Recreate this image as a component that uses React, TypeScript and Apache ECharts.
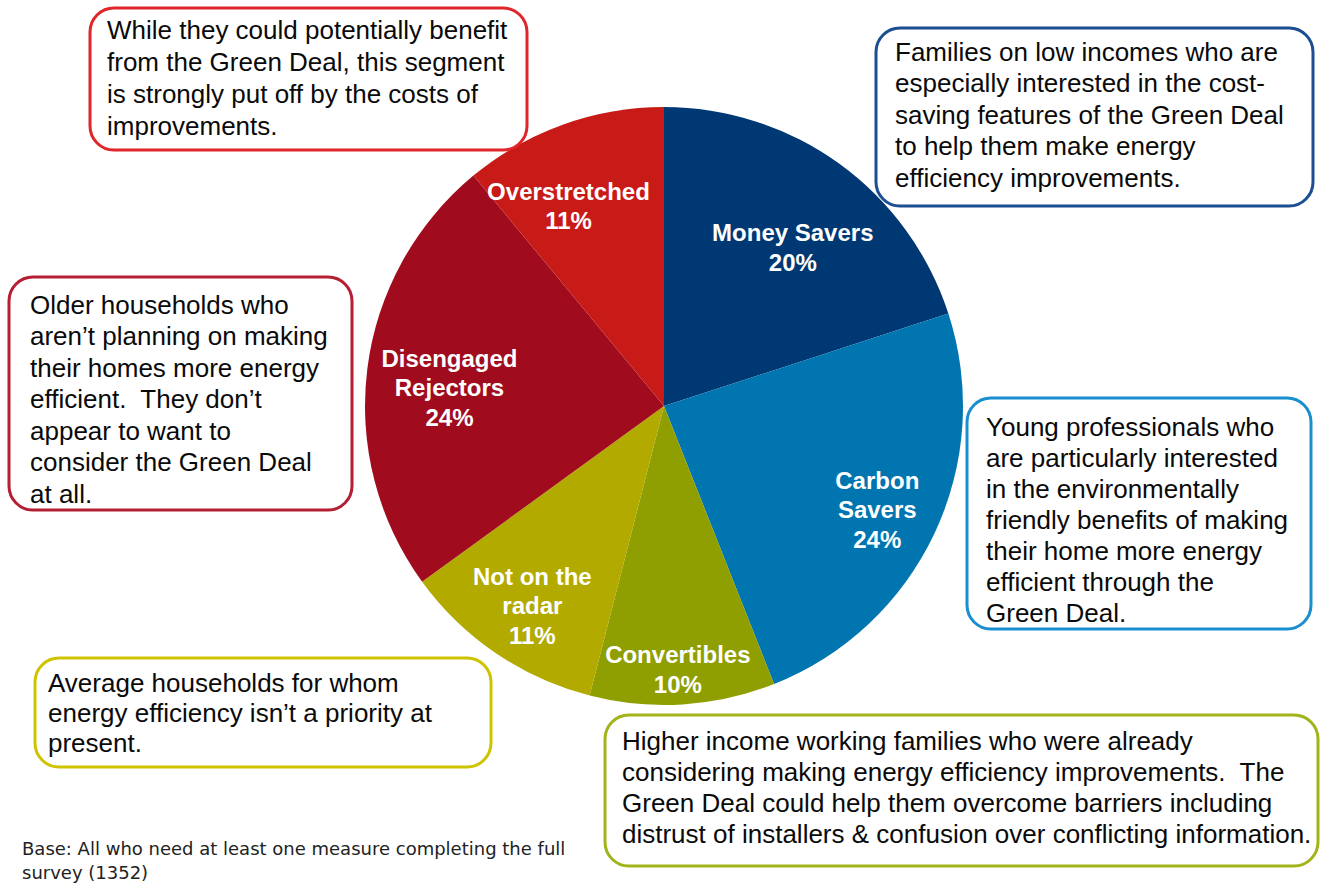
import React, { useEffect, useRef } from 'react';
import * as echarts from 'echarts';

// ---- Data ----
const segments = ['Money Savers', 'Carbon Savers', 'Convertibles', 'Not on the radar', 'Disengaged Rejectors', 'Overstretched'];
const segmentLabelLines = ['Money Savers', 'Carbon\nSavers', 'Convertibles', 'Not on the\nradar', 'Disengaged\nRejectors', 'Overstretched'];
const shares = [20, 24, 10, 11, 24, 11];
const segmentColors = ['#003873', '#0075b0', '#8f9e00', '#b3aa00', '#a00c1e', '#c81a17'];
// label placement inside each slice: fraction of radius, and angular shift (deg) from slice middle
const labelRadiusFrac = [0.683, 0.793, 0.883, 0.8, 0.72, 0.742];
const labelAngleShift = [-3.1, -0.7, -0.6, 0.8, 2.4, 5.7];

const descMoneySavers = [
  'Families on low incomes who are',
  'especially interested in the cost-',
  'saving features of the Green Deal',
  'to help them make energy',
  'efficiency improvements.',
];
const descCarbonSavers = [
  'Young professionals who',
  'are particularly interested',
  'in the environmentally',
  'friendly benefits of making',
  'their home more energy',
  'efficient through the',
  'Green Deal.',
];
const descConvertibles = [
  'Higher income working families who were already',
  'considering making energy efficiency improvements.  The',
  'Green Deal could help them overcome barriers including',
  'distrust of installers & confusion over conflicting information.',
];
const descNotOnRadar = [
  'Average households for whom',
  'energy efficiency isn\u2019t a priority at',
  'present.',
];
const descDisengaged = [
  'Older households who',
  'aren\u2019t planning on making',
  'their homes more energy',
  'efficient.  They don\u2019t',
  'appear to want to',
  'consider the Green Deal',
  'at all.',
];
const descOverstretched = [
  'While they could potentially benefit',
  'from the Green Deal, this segment',
  'is strongly put off by the costs of',
  'improvements.',
];
const footnote = ['Base: All who need at least one measure completing the full', 'survey (1352)'];

// ---- Layout ----
const CX = 664;
const CY = 406;
const R = 299;
const FONT = '"Liberation Sans", Arial, sans-serif';

type Box = { x: number; y: number; w: number; h: number; color: string; lines: string[]; tx: number; ty: number; lh: number };

const boxes: Box[] = [
  { x: 90, y: 8, w: 437, h: 142, color: '#e0262a', lines: descOverstretched, tx: 107, ty: 14, lh: 32 },
  { x: 876, y: 28, w: 437, h: 178, color: '#1c4f91', lines: descMoneySavers, tx: 895, ty: 36, lh: 31.5 },
  { x: 9, y: 277, w: 343, h: 233, color: '#b51f33', lines: descDisengaged, tx: 30, ty: 289, lh: 31.5 },
  { x: 967, y: 398, w: 344, h: 231, color: '#1a8fd0', lines: descCarbonSavers, tx: 986, ty: 411, lh: 31 },
  { x: 35, y: 658, w: 456, h: 109, color: '#cfc300', lines: descNotOnRadar, tx: 48, ty: 668, lh: 30 },
  { x: 605, y: 715, w: 713, h: 151, color: '#a3b41a', lines: descConvertibles, tx: 622, ty: 725, lh: 31 },
];

export default function App() {
  const ref = useRef<HTMLDivElement>(null);
  useEffect(() => {
    document.body.style.margin = '0';
    if (!ref.current) return;
    const chart = echarts.init(ref.current, undefined, { renderer: 'svg' });
    const total = shares.reduce((a, b) => a + b, 0);

    const graphics: any[] = [];
    boxes.forEach((b) => {
      graphics.push({
        type: 'rect',
        shape: { x: b.x, y: b.y, width: b.w, height: b.h, r: 24 },
        style: { fill: '#ffffff', stroke: b.color, lineWidth: 3 },
        z: 10,
      });
      graphics.push({
        type: 'text',
        x: b.tx,
        y: b.ty,
        style: {
          text: b.lines.join('\n'),
          fontFamily: FONT,
          fontSize: 26,
          lineHeight: b.lh,
          fill: '#0a0a0a',
          verticalAlign: 'top',
          align: 'left',
        },
        z: 11,
      });
    });
    graphics.push({
      type: 'text',
      x: 22,
      y: 836,
      style: {
        text: footnote.join('\n'),
        fontFamily: '"DejaVu Sans", Verdana, sans-serif',
        fontSize: 18,
        lineHeight: 24,
        fill: '#222222',
        verticalAlign: 'top',
        align: 'left',
      },
      z: 11,
    });

    chart.setOption({
      animation: false,
      backgroundColor: '#ffffff',
      series: [
        {
          type: 'pie',
          center: [CX, CY],
          radius: [0, R],
          startAngle: 90,
          clockwise: true,
          silent: true,
          avoidLabelOverlap: false,
          emphasis: { disabled: true },
          itemStyle: { borderWidth: 0 },
          label: {
            show: true,
            position: 'inside',
            color: '#ffffff',
            fontFamily: FONT,
            fontWeight: 'bold',
            fontSize: 24,
            lineHeight: 29.5,
            align: 'center',
            formatter: (p: any) => segmentLabelLines[p.dataIndex] + '\n' + p.value + '%',
          },
          labelLine: { show: false },
          labelLayout: (p: any) => {
            const i = p.dataIndex;
            let cum = 0;
            for (let j = 0; j < i; j++) cum += shares[j];
            const mid = (cum + shares[i] / 2) / total;
            const ang = ((90 - mid * 360 + labelAngleShift[i]) * Math.PI) / 180;
            const rr = R * labelRadiusFrac[i];
            return {
              x: CX + rr * Math.cos(ang),
              y: CY - rr * Math.sin(ang),
              align: 'center',
              verticalAlign: 'middle',
            };
          },
          data: segments.map((name, i) => ({
            name,
            value: shares[i],
            itemStyle: { color: segmentColors[i] },
          })),
        },
      ],
      graphic: { elements: graphics },
    });
    return () => chart.dispose();
  }, []);
  return <div ref={ref} style={{ width: 1320, height: 884 }} />;
}
